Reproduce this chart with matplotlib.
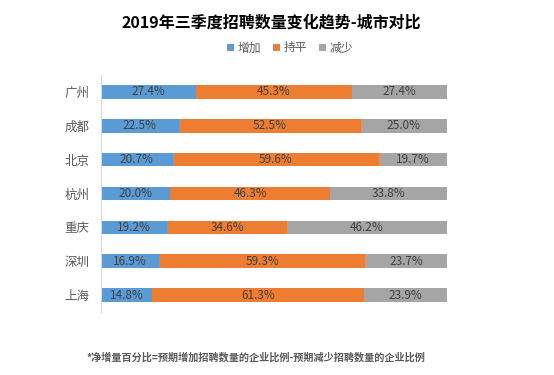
import matplotlib
matplotlib.use('Agg')
import matplotlib.pyplot as plt
import numpy as np

plt.rcParams['font.family'] = ['Noto Sans CJK SC', 'DejaVu Sans']

# ─── DATA ──────────────────────────────────────────────────────────────────────
cities   = ["广州", "成都", "北京", "杭州", "重庆", "深圳", "上海"]
increase = [27.4, 22.5, 20.7, 20.0, 19.2, 16.9, 14.8]
flat     = [45.3, 52.5, 59.6, 46.3, 34.6, 59.3, 61.3]
decrease = [27.4, 25.0, 19.7, 33.8, 46.2, 23.7, 23.9]
series_names = ["增加", "持平", "减少"]
colors = ["#5B9BD5", "#ED7D31", "#A5A5A5"]

# ─── PLOT ──────────────────────────────────────────────────────────────────────
fig = plt.figure(figsize=(5.54, 3.75), dpi=100)
ax = fig.add_axes([0.182, 0.168, 0.625, 0.632])

# 100% stacked: normalise each row so all bars end at the same place
totals = np.array(increase) + np.array(flat) + np.array(decrease)
y = np.arange(len(cities))
left = np.zeros(len(cities))
for name, vals, c in zip(series_names, [increase, flat, decrease], colors):
    vals = np.array(vals)
    widths = vals / totals * 100
    ax.barh(y, widths, left=left, height=0.4, color=c, label=name)
    for yi, l, w, v in zip(y, left, widths, vals):
        ax.text(l + w / 2, yi, f"{v:.1f}%", ha='center', va='center',
                fontsize=8.5, color='#404040')
    left = left + widths

ax.set_ylim(len(cities) - 0.5, -0.5)
ax.set_xlim(0, 100)
ax.set_yticks(y)
ax.set_yticklabels(cities, fontsize=9, color='#595959')
ax.tick_params(axis='y', length=0, pad=8)
ax.set_xticks([])
for s in ['top', 'right', 'bottom']:
    ax.spines[s].set_visible(False)
ax.spines['left'].set_color('#D9D9D9')

fig.text(0.49, 0.94, "2019年三季度招聘数量变化趋势-城市对比", ha='center', va='center',
         fontsize=11.5, fontweight='bold', color='#000000')
fig.legend(loc='center', bbox_to_anchor=(0.524, 0.872), ncol=3, frameon=False,
           fontsize=8.5, handlelength=0.6, handleheight=0.6, handletextpad=0.3,
           columnspacing=1.0, labelcolor='#595959')
fig.text(0.462, 0.048, "*净增量百分比=预期增加招聘数量的企业比例-预期减少招聘数量的企业比例",
         ha='center', va='center', fontsize=7.3, fontweight='bold', color='#595959')

plt.savefig("out.png", dpi=100)
plt.close()
